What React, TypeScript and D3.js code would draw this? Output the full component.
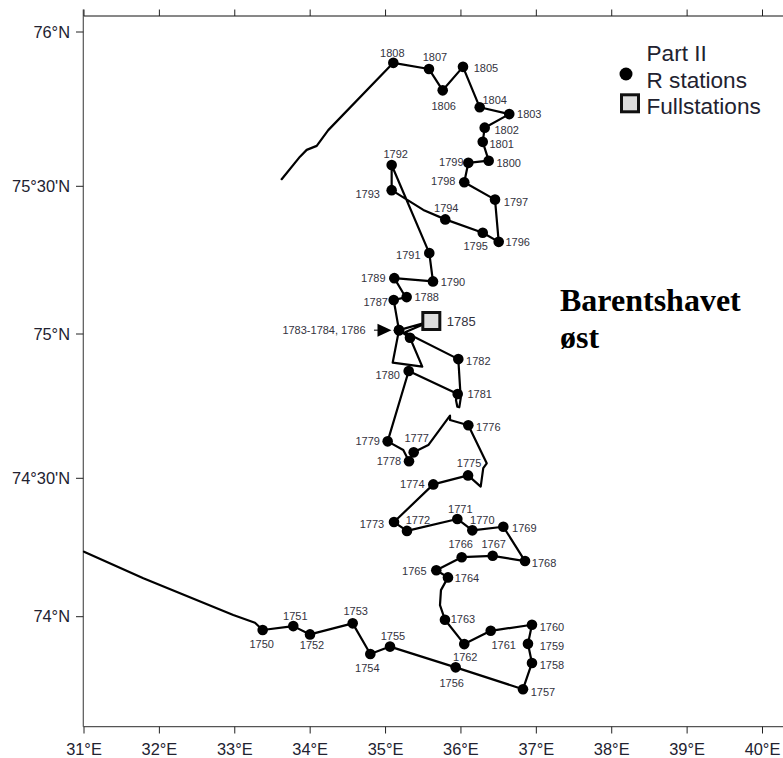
import React from "react";
import * as d3 from "d3";

const width = 783;
const height = 758;

const lonTicks = [31, 32, 33, 34, 35, 36, 37, 38, 39, 40];
const latTicks = [74, 74.5, 75, 75.5, 76];
const latTickLabels = ["74°N", "74°30'N", "75°N", "75°30'N", "76°N"];

// Station ids in cruise order (1785/1783/1784/1786 are visited in that order)
const stationIds = [
  1750, 1751, 1752, 1753, 1754, 1755, 1756, 1757, 1758, 1759,
  1760, 1761, 1762, 1763, 1764, 1765, 1766, 1767, 1768, 1769,
  1770, 1771, 1772, 1773, 1774, 1775, 1776, 1777, 1778, 1779,
  1780, 1781, 1782, 1785, 1783, 1784, 1786, 1787, 1788, 1789,
  1790, 1791, 1792, 1793, 1794, 1795, 1796, 1797, 1798, 1799,
  1800, 1801, 1802, 1803, 1804, 1805, 1806, 1807, 1808,
];
const stationLon = [
  33.37, 33.776, 33.998, 34.564, 34.798, 35.059, 35.93, 36.823, 36.942, 36.889,
  36.942, 36.395, 36.044, 35.788, 35.828, 35.673, 36.01, 36.421, 36.85, 36.562,
  36.151, 35.952, 35.284, 35.112, 35.633, 36.094, 36.098, 35.373, 35.311, 35.028,
  35.307, 35.957, 35.965, 35.607, 35.178, 35.324, 35.178, 35.108, 35.28, 35.116,
  35.629, 35.58, 35.081, 35.081, 35.792, 36.289, 36.501, 36.452, 36.044, 36.098,
  36.368, 36.289, 36.315, 36.641, 36.249, 36.027, 35.758, 35.576, 35.103,
];
const stationLat = [
  73.952, 73.966, 73.936, 73.976, 73.865, 73.892, 73.817, 73.738, 73.833, 73.902,
  73.971, 73.949, 73.901, 73.989, 74.142, 74.168, 74.215, 74.22, 74.201, 74.325,
  74.312, 74.353, 74.31, 74.342, 74.478, 74.51, 74.684, 74.59, 74.559, 74.628,
  74.872, 74.792, 74.913, 75.044, 75.013, 74.987, 75.013, 75.115, 75.125, 75.189,
  75.178, 75.274, 75.569, 75.487, 75.388, 75.343, 75.312, 75.455, 75.513, 75.576,
  75.583, 75.644, 75.69, 75.734, 75.756, 75.887, 75.811, 75.88, 75.9,
];

// Transit into the survey area and out of it
const inbound: [number, number][] = [
  [31.0, 74.235], [31.787, 74.139], [32.98, 74.006], [33.268, 73.978],
];
const outbound: [number, number][] = [
  [34.24, 75.682], [34.087, 75.631], [33.954, 75.618], [33.865, 75.596], [33.622, 75.523],
];
// Track bends sailed after leaving a station
const via: Record<number, [number, number][]> = {
  1763: [[35.722, 74.042], [35.735, 74.096]],
  1775: [[36.262, 74.47], [36.296, 74.535], [36.342, 74.552]],
  1776: [[35.855, 74.702], [35.855, 74.717], [35.567, 74.615]],
  1778: [[35.235, 74.598]],
  1781: [[35.934, 74.771], [35.952, 74.748], [35.978, 74.746], [35.997, 74.778]],
  1782: [[35.258, 75.006]],
  1783: [[35.095, 74.901], [35.487, 74.887]],
  1788: [[35.235, 75.138]],
  1793: [[35.501, 75.42]],
};

// Label placement relative to the station dot, as [dx, dy] pixels
const labelOffset: Record<number, [number, number]> = {
  1750: [-1, 14], 1751: [2, -10], 1752: [2, 11], 1753: [3, -12], 1754: [-3, 14],
  1755: [3, -10], 1756: [-4, 16], 1757: [20, 3], 1758: [20, 2], 1759: [24, 2],
  1760: [20, 2], 1761: [13, 14], 1762: [1, 13], 1763: [18, -1], 1764: [19, 1],
  1765: [-22, 1], 1766: [-1, -13], 1767: [1, -12], 1768: [19, 2], 1769: [21, 1],
  1770: [10, -10], 1771: [3, -10], 1772: [11, -11], 1773: [-22, 2], 1774: [-21, 0],
  1775: [1, -12], 1776: [20, 2], 1777: [3, -14], 1778: [-20, 0], 1779: [-20, 0],
  1780: [-21, 4], 1781: [22, 0], 1782: [20, 2], 1787: [-18, 2], 1788: [20, 0],
  1789: [-21, 0], 1790: [20, 1], 1791: [-21, 2], 1792: [4, -11], 1793: [-24, 4],
  1794: [1, -11], 1795: [-7, 13], 1796: [19, 0], 1797: [21, 3], 1798: [-21, -1],
  1799: [-17, -1], 1800: [20, 2], 1801: [19, 2], 1802: [22, 2], 1803: [20, 0],
  1804: [15, -7], 1805: [23, 1], 1806: [1, 16], 1807: [6, -12], 1808: [-1, -10],
};

const fullStation = 1785;
const fullLabel = "1785";
const groupLabel = "1783-1784, 1786";
const legendLines = ["Part II", "R stations", "Fullstations"];
const regionLines = ["Barentshavet", "øst"];

const INK = "#333340";
const AXIS = "#555";
const SANS = "'Liberation Sans', Arial, sans-serif";
const SERIF = "'Liberation Serif', 'Times New Roman', serif";

const x = d3.scaleLinear().domain([31, 40]).range([84, 762.5]);
// Mercator graticule, pinned at the printed parallels
const y = d3.scaleLinear().domain(latTicks).range([616.7, 478.3, 334, 186.3, 32]);

const axisBottom = 726.7;
const axisLeft = 83.3;
const axisTop = 16;

export default function App() {
  const stations = stationIds.map((id, i) => ({
    id,
    lon: stationLon[i],
    lat: stationLat[i],
  }));
  const track: [number, number][] = [...inbound];
  stations.forEach((s) => {
    track.push([s.lon, s.lat]);
    (via[s.id] ?? []).forEach((p) => track.push(p));
  });
  outbound.forEach((p) => track.push(p));
  const line = d3
    .line<[number, number]>()
    .x((d) => x(d[0]))
    .y((d) => y(d[1]));
  const full = stations.find((s) => s.id === fullStation)!;
  const group = stations.find((s) => s.id === 1783)!;
  const gx = x(group.lon);
  const gy = y(group.lat);

  return (
    <svg
      width={width}
      height={height}
      viewBox={`0 0 ${width} ${height}`}
      style={{ position: "absolute", left: 0, top: 0, background: "#fff" }}
      fontFamily={SANS}
    >
      {/* frame */}
      <line x1={axisLeft} x2={width} y1={axisTop} y2={axisTop} stroke="#111" strokeWidth={1} />
      <line x1={axisLeft} x2={width} y1={axisBottom} y2={axisBottom} stroke={AXIS} strokeWidth={1.2} />
      <line x1={axisLeft} x2={axisLeft} y1={9.5} y2={axisBottom} stroke={AXIS} strokeWidth={1.2} />

      {lonTicks.map((t) => (
        <g key={t}>
          <line x1={x(t)} x2={x(t)} y1={9.5} y2={axisTop} stroke="#222" strokeWidth={1} />
          <line x1={x(t)} x2={x(t)} y1={axisBottom} y2={733.5} stroke="#222" strokeWidth={1} />
          <text x={x(t)} y={755} textAnchor="middle" fontSize={16.4} fill="#222230">
            {`${t}°E`}
          </text>
        </g>
      ))}
      {latTicks.map((t, i) => (
        <g key={t}>
          <line x1={76} x2={axisLeft} y1={y(t)} y2={y(t)} stroke="#222" strokeWidth={1} />
          <text x={70} y={y(t) + 5.5} textAnchor="end" fontSize={16.4} fill="#222230">
            {latTickLabels[i]}
          </text>
        </g>
      ))}

      {/* cruise track */}
      <path
        d={line(track) ?? ""}
        fill="none"
        stroke="#000"
        strokeWidth={2.2}
        strokeLinejoin="round"
        strokeLinecap="round"
      />

      {/* stations */}
      {stations
        .filter((s) => s.id !== fullStation)
        .map((s) => (
          <circle key={s.id} cx={x(s.lon)} cy={y(s.lat)} r={5.3} fill="#000" />
        ))}
      {stations
        .filter((s) => labelOffset[s.id])
        .map((s) => (
          <text
            key={s.id}
            x={x(s.lon) + labelOffset[s.id][0]}
            y={y(s.lat) + labelOffset[s.id][1] + 3.9}
            textAnchor="middle"
            fontSize={11}
            fill={INK}
          >
            {s.id}
          </text>
        ))}

      {/* full station */}
      <rect
        x={x(full.lon) - 8.5}
        y={y(full.lat) - 8.5}
        width={17}
        height={17}
        fill="#dedede"
        stroke="#111"
        strokeWidth={3}
      />
      <text x={x(full.lon) + 30} y={y(full.lat) + 4.5} textAnchor="middle" fontSize={13} fill={INK}>
        {fullLabel}
      </text>

      {/* arrow to the repeated position */}
      <text x={gx - 75} y={gy + 4} textAnchor="middle" fontSize={11} fill={INK}>
        {groupLabel}
      </text>
      <line x1={gx - 25} x2={gx - 21} y1={gy} y2={gy} stroke="#000" strokeWidth={1} />
      <path
        d={`M${gx - 21.5},${gy - 6.5} L${gx - 7.5},${gy} L${gx - 21.5},${gy + 6.5} Z`}
        fill="#000"
      />

      {/* legend */}
      <circle cx={626} cy={74} r={6.5} fill="#000" />
      <rect x={621.5} y={94.8} width={17} height={17} fill="#dedede" stroke="#111" strokeWidth={3} />
      {legendLines.map((t, i) => (
        <text key={t} x={646.5} y={[61, 88, 114.3][i]} fontSize={22.6} fill="#222230">
          {t}
        </text>
      ))}

      {/* region name */}
      {regionLines.map((t, i) => (
        <text
          key={t}
          x={560}
          y={[311, 348][i]}
          fontFamily={SERIF}
          fontWeight="bold"
          fontSize={32}
          fill="#000"
        >
          {t}
        </text>
      ))}
    </svg>
  );
}
